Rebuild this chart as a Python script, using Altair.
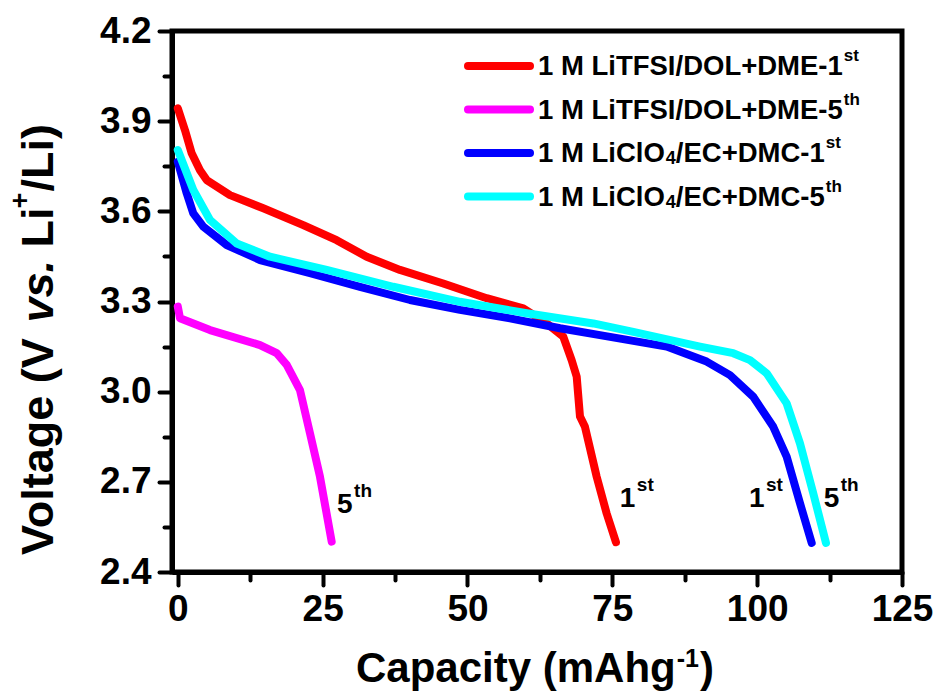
import altair as alt
import pandas as pd

FONT = "Liberation Sans"

# ---------------- data ----------------
red_x = [0, 1.24, 2.40, 3.83, 4.99, 9.01, 14.76, 21.66, 27.42, 32.60, 38.35, 45.82,
         53.31, 59.63, 63.67, 66.53, 67.98, 68.85, 69.42, 70.28, 72.30, 74.02, 75.63]
red_y = [3.943, 3.870, 3.793, 3.737, 3.704, 3.654, 3.610, 3.554, 3.504, 3.449, 3.405, 3.360,
         3.311, 3.277, 3.227, 3.183, 3.105, 3.050, 2.917, 2.883, 2.717, 2.595, 2.499]

mag_x = [0, 0.38, 5.56, 14.19, 17.07, 18.80, 21.09, 22.82, 24.54, 26.56]
mag_y = [3.283, 3.244, 3.205, 3.155, 3.128, 3.089, 3.005, 2.861, 2.717, 2.501]

blue_x = [0, 1.54, 2.68, 4.40, 8.44, 14.19, 22.82, 31.45, 40.08, 48.71, 57.34, 65.97,
          72.86, 84.38, 91.28, 95.31, 99.33, 102.78, 105.09, 107.39, 109.41]
blue_y = [3.765, 3.660, 3.593, 3.549, 3.488, 3.438, 3.394, 3.349, 3.305, 3.272, 3.244, 3.211,
          3.188, 3.150, 3.100, 3.055, 2.983, 2.883, 2.784, 2.629, 2.497]

cyan_x = [0, 2.68, 5.56, 10.17, 15.91, 25.70, 37.19, 48.71, 60.22, 71.71, 78.62, 90.13,
          95.87, 98.76, 101.64, 105.09, 107.39, 109.68, 111.87]
cyan_y = [3.804, 3.671, 3.571, 3.493, 3.449, 3.405, 3.349, 3.299, 3.261, 3.227, 3.199, 3.150,
          3.128, 3.105, 3.061, 2.961, 2.828, 2.662, 2.497]

series_colors = ["#FF0000", "#FF00FF", "#0000FF", "#00FFFF"]

# legend texts: (main, subscript-4 split, cycle digit, superscript)
legend_main = [["1 M LiTFSI/DOL+DME-1"], ["1 M LiTFSI/DOL+DME-5"],
               ["1 M LiClO", "4", "/EC+DMC-1"], ["1 M LiClO", "4", "/EC+DMC-5"]]
legend_sup = ["st", "th", "st", "th"]

# curve annotations
ann_main = ["1", "1", "5", "5"]
ann_sup = ["st", "st", "th", "th"]
ann_x = [76.3, 98.6, 111.5, 27.5]
ann_y = [2.616, 2.616, 2.616, 2.596]

x_ticks = [0, 12.5, 25, 37.5, 50, 62.5, 75, 87.5, 100, 112.5, 125]
y_ticks = [2.4, 2.55, 2.7, 2.85, 3.0, 3.15, 3.3, 3.45, 3.6, 3.75, 3.9, 4.05, 4.2]

# ---------------- helpers ----------------
W = {' ': 278, '(': 333, ')': 333, '+': 584, '-': 333, '.': 278, '/': 278,
     'A': 722, 'C': 722, 'D': 722, 'E': 667, 'F': 611, 'I': 278, 'L': 611, 'M': 833,
     'O': 778, 'S': 667, 'T': 611, 'V': 667, 'a': 556, 'c': 556, 'e': 556, 'g': 611,
     'h': 611, 'i': 278, 'l': 278, 'm': 889, 'o': 611, 'p': 611, 's': 556, 't': 333,
     'v': 556, 'y': 556}
for d in "0123456789":
    W[d] = 556


def tw(s, size):
    return sum(W.get(c, 600) for c in s) / 1000.0 * size


def txt(x, y, s, size, italic=False, angle=0):
    return alt.Chart(pd.DataFrame({"t": [s]})).mark_text(
        font=FONT, fontWeight="bold", fontStyle="italic" if italic else "normal",
        fontSize=size, align="left", baseline="alphabetic", angle=angle, color="black"
    ).encode(x=alt.value(x), y=alt.value(y), text="t:N")


xscale = alt.Scale(domain=[-1, 125], nice=False, zero=False)
yscale = alt.Scale(domain=[2.4, 4.2], nice=False, zero=False)

xaxis = alt.Axis(
    values=x_ticks, title=None, grid=False,
    labelExpr="datum.value % 25 === 0 ? datum.label : ''",
    tickSize={"condition": {"test": "datum.value % 25 === 0", "value": 13}, "value": 8},
    tickWidth=4, tickColor="black", tickCap="round",
    domain=True, domainWidth=5, domainColor="black",
    labelFont=FONT, labelFontSize=37, labelFontWeight="bold", labelColor="black",
    labelPadding=6, labelFlush=False, labelOverlap=False)
yaxis = alt.Axis(
    values=y_ticks, title=None, grid=False,
    labelExpr="abs(round(datum.value*100) % 30) < 1 ? format(datum.value, '.1f') : ''",
    tickSize={"condition": {"test": "abs(round(datum.value*100) % 30) < 1", "value": 13}, "value": 8},
    tickWidth=4, tickColor="black", tickCap="round",
    domain=True, domainWidth=5, domainColor="black",
    labelFont=FONT, labelFontSize=37, labelFontWeight="bold", labelColor="black",
    labelPadding=8, labelFlush=False, labelOverlap=False)

X = lambda: alt.X("capacity:Q", scale=xscale, axis=xaxis)
Y = lambda: alt.Y("voltage:Q", scale=yscale, axis=yaxis)

layers = []
for xs, ys, col in zip([red_x, mag_x, blue_x, cyan_x], [red_y, mag_y, blue_y, cyan_y], series_colors):
    df = pd.DataFrame({"capacity": xs, "voltage": ys, "i": list(range(len(xs)))})
    layers.append(alt.Chart(df).mark_line(color=col, strokeWidth=8, strokeCap="round",
                                          strokeJoin="round").encode(x=X(), y=Y(), order="i:Q"))

# curve annotations
ann_df = pd.DataFrame({"capacity": ann_x, "voltage": ann_y, "t": ann_main, "s": ann_sup})
layers.append(alt.Chart(ann_df).mark_text(font=FONT, fontWeight="bold", fontSize=28, align="left",
                                          baseline="alphabetic", color="black")
              .encode(x=X(), y=Y(), text="t:N"))
layers.append(alt.Chart(ann_df).mark_text(font=FONT, fontWeight="bold", fontSize=19, align="left",
                                          baseline="alphabetic", color="black", dx=17, dy=-16)
              .encode(x=X(), y=Y(), text="s:N"))

# ---------------- legend (pixel coords inside plot) ----------------
LEG_LINE_X0, LEG_LINE_X1 = 296, 358
LEG_TEXT_X = 366
LEG_Y0, LEG_DY = 35, 43.5
LF, LSUP, LSUB = 27.5, 17, 18
for k in range(4):
    cy = LEG_Y0 + k * LEG_DY
    layers.append(alt.Chart(pd.DataFrame({"a": [0]})).mark_rule(
        color=series_colors[k], strokeWidth=8, strokeCap="round").encode(
        x=alt.value(LEG_LINE_X0), x2=alt.value(LEG_LINE_X1), y=alt.value(cy)))
    bx = LEG_TEXT_X
    by = cy + 9
    parts = legend_main[k]
    for j, p in enumerate(parts):
        if len(parts) == 3 and j == 1:
            layers.append(txt(bx + 1, by + 2, p, LSUB))
            bx += tw(p, LSUB) + 1
        else:
            layers.append(txt(bx, by, p, LF))
            bx += tw(p, LF)
    layers.append(txt(bx + 1, by - 14, legend_sup[k], LSUP))

# ---------------- axis titles ----------------
# y title (rotated, reading upward); leading spaces are advanced manually
YT = 45
ybase_x = -119
ypos = 524
for s, it in [("Voltage (V", False), (" ", False), ("vs.", True), (" ", False), ("Li", False)]:
    if s.strip():
        layers.append(txt(ybase_x, ypos, s, YT, italic=it, angle=270))
    ypos -= tw(s, YT)
layers.append(txt(ybase_x - 24, ypos + 1, "+", 27, angle=270))
ypos -= tw("+", 27)
layers.append(txt(ybase_x, ypos, "/Li)", YT, angle=270))

# x title
XT = 42
xpos = 184
xbase = 651
layers.append(txt(xpos, xbase, "Capacity (mAhg", XT))
xpos += tw("Capacity (mAhg", XT)
layers.append(txt(xpos + 1, xbase - 15, "-1", 25))
xpos += tw("-1", 25) + 2
layers.append(txt(xpos, xbase, ")", XT))

chart = alt.layer(*layers).properties(
    width=730, height=541,
    autosize=alt.AutoSizeParams(type="none"),
    padding={"left": 172, "top": 31, "right": 40, "bottom": 126},
    background="white",
).configure_view(stroke="black", strokeWidth=5)

chart.save("out.html", embed_options={"renderer": "svg", "actions": False})
